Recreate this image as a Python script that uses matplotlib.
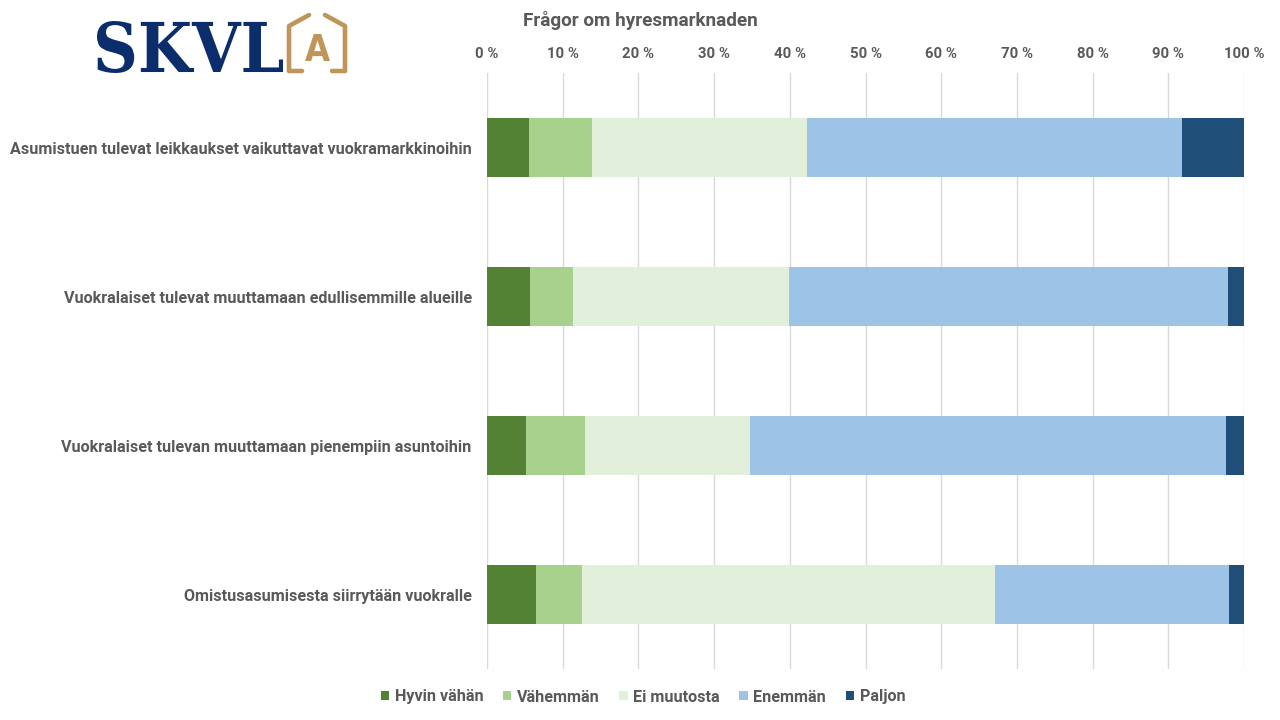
import matplotlib
matplotlib.use("Agg")
import matplotlib.pyplot as plt
from matplotlib.textpath import TextPath
from matplotlib.patches import PathPatch, Patch
from matplotlib.lines import Line2D
from matplotlib.font_manager import FontProperties
from matplotlib.transforms import Affine2D
from matplotlib.ticker import FuncFormatter

categories = [
    "Asumistuen tulevat leikkaukset vaikuttavat vuokramarkkinoihin",
    "Vuokralaiset tulevat muuttamaan edullisemmille alueille",
    "Vuokralaiset tulevan muuttamaan pienempiin asuntoihin",
    "Omistusasumisesta siirrytään vuokralle",
]
series_names = ["Hyvin vähän", "Vähemmän", "Ei muutosta", "Enemmän", "Paljon"]
hyvin_vahan = [5.5, 5.7, 5.2, 6.5]
vahemman = [8.4, 5.7, 7.8, 6.0]
ei_muutosta = [28.4, 28.5, 21.7, 54.6]
enemman = [49.5, 58.0, 62.9, 30.9]
paljon = [8.2, 2.1, 2.4, 2.0]
title = "Frågor om hyresmarknaden"

colors = ["#548235", "#A9D18E", "#E2EFDA", "#9DC3E6", "#1F4E79"]
gray = "#595959"
FONT = "Roboto"

W, H = 1280, 720
fig = plt.figure(figsize=(12.8, 7.2), dpi=100)
ax = fig.add_axes([487 / W, 1 - 669 / H, (1244 - 487) / W, (669 - 73) / H])

data = [hyvin_vahan, vahemman, ei_muutosta, enemman, paljon]
ypos = list(range(len(categories)))
left = [0.0] * len(categories)
for name, vals, c in zip(series_names, data, colors):
    ax.barh(ypos, vals, left=left, height=0.40, color=c, label=name, zorder=3)
    left = [l + v for l, v in zip(left, vals)]

ax.set_xlim(0, 100)
ax.set_ylim(len(categories) - 0.5, -0.5)
ax.set_xticks(range(0, 101, 10))
ax.xaxis.set_major_formatter(FuncFormatter(lambda v, p: f"{int(v)} %"))
ax.xaxis.tick_top()
ax.set_yticks(ypos)
ax.set_yticklabels(categories)
ax.tick_params(axis="both", length=0, colors=gray)
ax.tick_params(axis="x", pad=9)
ax.tick_params(axis="y", pad=11)
for lab in ax.get_xticklabels() + ax.get_yticklabels():
    lab.set_fontfamily(FONT)
    lab.set_fontweight("bold")
    lab.set_color(gray)
for lab in ax.get_xticklabels():
    lab.set_fontsize(10.7)
for lab in ax.get_yticklabels():
    lab.set_fontsize(11.65)
for s in ax.spines.values():
    s.set_visible(False)
ax.grid(axis="x", color="#D9D9D9", linewidth=1, zorder=0)
ax.set_axisbelow(True)

fig.text(0.5, 1 - 21 / H, title, ha="center", va="center", fontsize=13.6,
         fontweight="bold", color=gray, family=FONT)

handles = [Patch(facecolor=c, edgecolor="none") for c in colors]
fig.legend(handles, series_names, loc="center", bbox_to_anchor=(643 / W, 1 - 697 / H),
           ncol=5, frameon=False, handlelength=0.52, handleheight=0.52,
           handletextpad=0.34, columnspacing=1.22,
           prop=FontProperties(family=FONT, weight="bold", size=11.6), labelcolor=gray)

# Logo
def fit_text(txt, prop, x0, x1, ytop, ybot, color):
    tp = TextPath((0, 0), txt, size=100, prop=prop)
    bb = tp.get_extents()
    sx = (x1 - x0) / bb.width
    sy = (ybot - ytop) / bb.height
    tr = (Affine2D().translate(-bb.x0, -bb.y0).scale(sx, sy)
          .translate(x0, H - ybot).scale(1 / W, 1 / H))
    p = tr.transform_path(tp)
    fig.add_artist(PathPatch(p, facecolor=color, edgecolor="none",
                             transform=fig.transFigure))

fit_text("SKVL", FontProperties(family="DejaVu Serif", weight="bold"),
         97, 283, 21, 73, "#0B2D6B")
gold = "#C0955A"
fit_text("A", FontProperties(family="DejaVu Sans", weight="bold"),
         305, 330, 34, 61, gold)
for xs, ys in [([309, 289, 289, 302], [15, 26, 71, 71]),
               ([325, 345, 345, 332], [15, 26, 71, 71])]:
    fig.add_artist(Line2D([x / W for x in xs], [1 - y / H for y in ys],
                          color=gold, linewidth=3.3, solid_capstyle="round",
                          solid_joinstyle="round", transform=fig.transFigure))

fig.savefig("out.png", dpi=100)
